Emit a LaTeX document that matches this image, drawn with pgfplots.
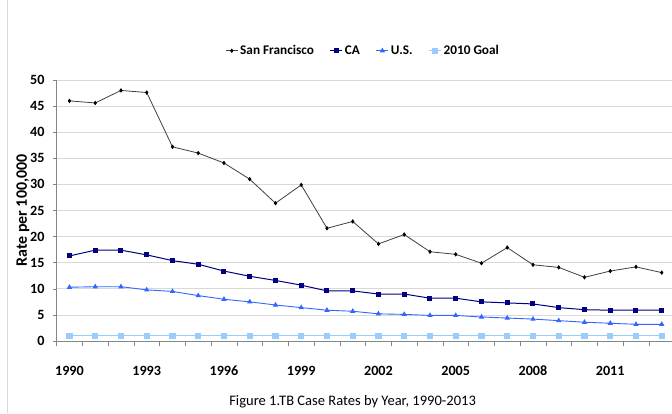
\documentclass[border=0pt]{standalone}
\usepackage{fontspec}
\setmainfont[Numbers=Lining]{Carlito}
\usepackage{pgfplots}
\pgfplotsset{compat=1.18}
\definecolor{sfline}{RGB}{64,64,64}
\definecolor{caline}{RGB}{0,0,128}
\definecolor{usline}{RGB}{51,102,255}
\definecolor{goalline}{RGB}{153,204,255}
\definecolor{gridc}{RGB}{217,217,217}
\definecolor{axisc}{RGB}{134,134,134}
\begin{document}
\begin{tikzpicture}[x=1bp,y=1bp]
\useasboundingbox (0,0) rectangle (672,413);
\fill[white] (0,0) rectangle (672,413);
\draw[gridc, line width=0.8bp] (7,0) -- (7,413);
\begin{axis}[
  at={(56.6bp,72bp)}, anchor=south west,
  scale only axis, width=618bp, height=261bp,
  xmin=-0.5, xmax=23.5, ymin=0, ymax=50,
  axis x line*=bottom, axis y line*=left,
  axis line style={axisc, line width=0.6bp},
  xtick={0,3,...,21},
  xticklabels={1990,1993,1996,1999,2002,2005,2008,2011},
  minor xtick={-0.5,0.5,...,23.5},
  major x tick style={draw=none},
  minor tick length=5bp,
  tick align=outside,
  every minor tick/.style={axisc, line width=0.6bp},
  ytick={0,5,...,50},
  major tick length=3.5bp,
  ytick style={axisc, line width=0.6bp},
  ymajorgrids, grid style={gridc, line width=0.8bp},
  tick label style={font=\fontsize{14.2}{16}\selectfont\bfseries, text=black},
  /pgf/number format/assume math mode=true,
  xticklabel style={anchor=north, yshift=-18bp},
  yticklabel style={xshift=-5bp},
  ylabel={Rate per 100,000},
  ylabel style={font=\fontsize{16}{18}\selectfont\bfseries, yshift=-6bp},
  xlabel={Figure 1.TB Case Rates by Year, 1990-2013},
  xlabel style={font=\fontsize{14.6}{17}\selectfont, yshift=-13bp, xshift=-13bp},
  legend columns=4,
  legend style={at={(0.496,1.112)}, anchor=center, draw=none, fill=none,
    font=\fontsize{13.3}{15}\selectfont\bfseries,
    /tikz/every even column/.append style={column sep=14bp}},
  legend image code/.code={
    \draw[mark repeat=2,mark phase=2] plot coordinates {(0bp,0bp) (6bp,0bp) (12bp,0bp)};},
  clip=false,
]
\addplot[sfline, line width=0.8bp, mark=diamond*, mark size=1.6bp, mark options={fill=black,draw=black}] coordinates {
(0,46.0)(1,45.6)(2,48.0)(3,47.6)(4,37.2)(5,36.0)(6,34.1)(7,31.0)(8,26.4)(9,29.9)
(10,21.6)(11,22.9)(12,18.6)(13,20.4)(14,17.1)(15,16.6)(16,14.9)(17,17.9)(18,14.6)
(19,14.1)(20,12.2)(21,13.4)(22,14.2)(23,13.1)};
\addlegendentry{San Francisco}
\addplot[caline, line width=1bp, mark=square*, mark size=2bp, mark options={fill=caline}] coordinates {
(0,16.3)(1,17.4)(2,17.4)(3,16.5)(4,15.4)(5,14.7)(6,13.4)(7,12.4)(8,11.6)(9,10.7)
(10,9.6)(11,9.6)(12,9.0)(13,9.0)(14,8.2)(15,8.2)(16,7.5)(17,7.3)(18,7.1)
(19,6.4)(20,6.0)(21,5.9)(22,5.9)(23,5.9)};
\addlegendentry{CA}
\addplot[usline, line width=0.9bp, mark=triangle*, mark size=2.2bp, mark options={fill=usline}] coordinates {
(0,10.3)(1,10.4)(2,10.4)(3,9.8)(4,9.5)(5,8.7)(6,8.0)(7,7.5)(8,6.9)(9,6.4)
(10,5.9)(11,5.7)(12,5.2)(13,5.1)(14,4.9)(15,4.9)(16,4.6)(17,4.4)(18,4.2)
(19,3.9)(20,3.6)(21,3.4)(22,3.2)(23,3.2)};
\addlegendentry{U.S.}
\addplot[goalline, line width=1bp, mark=square*, mark size=2.6bp, mark options={fill=goalline}] coordinates {
(0,1)(1,1)(2,1)(3,1)(4,1)(5,1)(6,1)(7,1)(8,1)(9,1)
(10,1)(11,1)(12,1)(13,1)(14,1)(15,1)(16,1)(17,1)(18,1)
(19,1)(20,1)(21,1)(22,1)(23,1)};
\addlegendentry{2010 Goal}
\end{axis}
\end{tikzpicture}
\end{document}
